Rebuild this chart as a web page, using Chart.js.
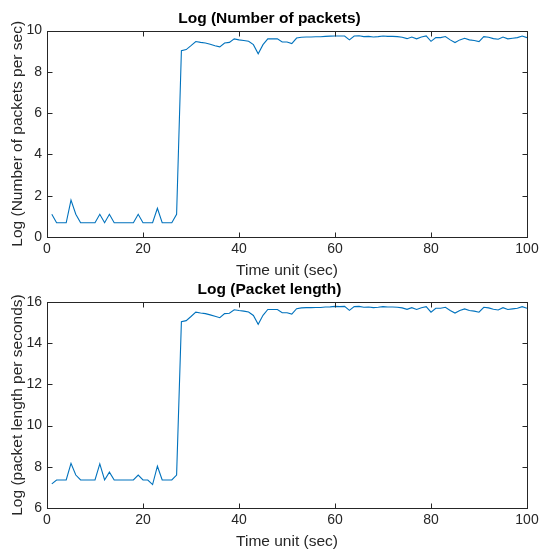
<!DOCTYPE html>
<html>
<head>
<meta charset="utf-8">
<script src="https://cdn.jsdelivr.net/npm/chart.js@4.4.0/dist/chart.umd.min.js"></script>
<style>
  body { margin: 0; background: #fff; }
  #wrap { position: relative; width: 539px; height: 551px; }
  canvas { position: absolute; left: 0; }
  #topChart { top: 0; }
  #bottomChart { top: 280px; }
</style>
</head>
<body>
<div id="wrap">
  <canvas id="topChart" width="539" height="280"></canvas>
  <canvas id="bottomChart" width="539" height="271"></canvas>
</div>
<script>
// Eje x: unidad de tiempo (sec)
const timeUnits = [
  1, 2, 3, 4, 5, 6, 7, 8, 9, 10, 11, 12, 13, 14, 15, 16, 17, 18, 19, 20,
  21, 22, 23, 24, 25, 26, 27, 28, 29, 30, 31, 32, 33, 34, 35, 36, 37, 38, 39, 40,
  41, 42, 43, 44, 45, 46, 47, 48, 49, 50, 51, 52, 53, 54, 55, 56, 57, 58, 59, 60,
  61, 62, 63, 64, 65, 66, 67, 68, 69, 70, 71, 72, 73, 74, 75, 76, 77, 78, 79, 80,
  81, 82, 83, 84, 85, 86, 87, 88, 89, 90, 91, 92, 93, 94, 95, 96, 97, 98, 99, 100
];

// Log (Number of packets per sec)
const logPackets = [
  1.10, 0.69, 0.69, 0.69, 1.79, 1.10, 0.69, 0.69, 0.69, 0.69,
  1.10, 0.69, 1.10, 0.69, 0.69, 0.69, 0.69, 0.69, 1.10, 0.69,
  0.69, 0.69, 1.39, 0.69, 0.69, 0.69, 1.10, 9.03, 9.08, 9.27,
  9.47, 9.43, 9.40, 9.34, 9.27, 9.21, 9.40, 9.43, 9.60, 9.55,
  9.52, 9.48, 9.32, 8.88, 9.32, 9.60, 9.60, 9.60, 9.45, 9.45,
  9.37, 9.64, 9.68, 9.69, 9.69, 9.70, 9.70, 9.72, 9.73, 9.74,
  9.74, 9.74, 9.55, 9.74, 9.75, 9.71, 9.72, 9.69, 9.71, 9.74,
  9.72, 9.72, 9.71, 9.68, 9.61, 9.69, 9.60, 9.69, 9.74, 9.48,
  9.66, 9.66, 9.71, 9.55, 9.42, 9.55, 9.63, 9.55, 9.52, 9.47,
  9.71, 9.68, 9.61, 9.58, 9.69, 9.60, 9.63, 9.66, 9.74, 9.66
];

// Log (packet length per seconds)
const logLength = [
  7.17, 7.36, 7.36, 7.36, 8.17, 7.60, 7.36, 7.36, 7.36, 7.36,
  8.14, 7.36, 7.74, 7.36, 7.36, 7.36, 7.36, 7.36, 7.60, 7.36,
  7.36, 7.14, 8.03, 7.36, 7.36, 7.36, 7.60, 15.05, 15.10, 15.30,
  15.51, 15.47, 15.44, 15.38, 15.31, 15.24, 15.44, 15.46, 15.63, 15.59,
  15.56, 15.52, 15.35, 14.92, 15.36, 15.64, 15.64, 15.64, 15.48, 15.48,
  15.42, 15.68, 15.72, 15.73, 15.73, 15.74, 15.74, 15.76, 15.77, 15.79,
  15.78, 15.79, 15.60, 15.78, 15.79, 15.75, 15.76, 15.73, 15.75, 15.78,
  15.76, 15.76, 15.75, 15.72, 15.65, 15.73, 15.64, 15.73, 15.78, 15.51,
  15.70, 15.70, 15.75, 15.59, 15.47, 15.59, 15.67, 15.59, 15.56, 15.51,
  15.75, 15.72, 15.65, 15.62, 15.73, 15.64, 15.67, 15.70, 15.78, 15.70
];

const xTicks = [0, 20, 40, 60, 80, 100];
const yTicksTop = [0, 2, 4, 6, 8, 10];
const yTicksBottom = [6, 8, 10, 12, 14, 16];

const axisColor = '#262626';
const fontFamily = '"Liberation Sans", Arial, Helvetica, sans-serif';

// Caja de ejes con marcas hacia dentro (estilo MATLAB)
const boxTicks = {
  id: 'boxTicks',
  afterDraw(chart) {
    const { ctx, chartArea: a, scales: { x, y } } = chart;
    ctx.save();
    ctx.strokeStyle = axisColor;
    ctx.lineWidth = 1;
    const l = Math.round(a.left) + 0.5, r = Math.round(a.right) + 0.5;
    const t = Math.round(a.top) + 0.5, b = Math.round(a.bottom) + 0.5;
    ctx.strokeRect(l, t, r - l, b - t);
    ctx.beginPath();
    x.ticks.forEach(tk => {
      const px = Math.round(x.getPixelForValue(tk.value)) + 0.5;
      ctx.moveTo(px, b); ctx.lineTo(px, b - 5);
      ctx.moveTo(px, t); ctx.lineTo(px, t + 5);
    });
    y.ticks.forEach(tk => {
      const py = Math.round(y.getPixelForValue(tk.value)) + 0.5;
      ctx.moveTo(l, py); ctx.lineTo(l + 5, py);
      ctx.moveTo(r, py); ctx.lineTo(r - 5, py);
    });
    ctx.stroke();
    ctx.restore();
  }
};

function makeChart(id, values, yMin, yMax, yTickVals, title, yLabel, titlePad) {
  const ctx = document.getElementById(id).getContext('2d');
  return new Chart(ctx, {
    type: 'line',
    data: {
      labels: timeUnits,
      datasets: [{
        data: timeUnits.map((t, i) => ({ x: t, y: values[i] })),
        borderColor: '#0072BD',
        borderWidth: 1.1,
        pointRadius: 0,
        tension: 0,
        fill: false
      }]
    },
    options: {
      responsive: false,
      animation: false,
      devicePixelRatio: 1,
      layout: { padding: 0 },
      plugins: {
        legend: { display: false },
        tooltip: { enabled: false },
        title: {
          display: true,
          text: title,
          color: '#000',
          font: { family: fontFamily, size: 15.5, weight: 'bold' },
          padding: titlePad
        }
      },
      scales: {
        x: {
          type: 'linear',
          min: 0,
          max: 100,
          afterBuildTicks: s => { s.ticks = xTicks.map(v => ({ value: v })); },
          afterFit: s => { s.height = 43; s.paddingRight = 12; s.paddingLeft = 0; },
          grid: { display: false, drawTicks: false },
          border: { display: false },
          ticks: { color: axisColor, padding: 4, maxRotation: 0, font: { family: fontFamily, size: 14 } },
          title: {
            display: true,
            text: 'Time unit (sec)',
            color: axisColor,
            padding: { top: 0, bottom: 0 },
            font: { family: fontFamily, size: 15.5 }
          }
        },
        y: {
          min: yMin,
          max: yMax,
          afterBuildTicks: s => { s.ticks = yTickVals.map(v => ({ value: v })); },
          afterFit: s => { s.width = 47; },
          grid: { display: false, drawTicks: false },
          border: { display: false },
          ticks: { color: axisColor, padding: 5, font: { family: fontFamily, size: 14 } },
          title: {
            display: true,
            text: yLabel,
            color: axisColor,
            padding: { top: 8, bottom: 0 },
            font: { family: fontFamily, size: 15.5 }
          }
        }
      }
    },
    plugins: [boxTicks]
  });
}

makeChart('topChart', logPackets, 0, 10, yTicksTop,
  'Log (Number of packets)', 'Log (Number of packets per sec)', { top: 9, bottom: 3 });
makeChart('bottomChart', logLength, 6, 16, yTicksBottom,
  'Log (Packet length)', 'Log (packet length per seconds)', { top: 0.5, bottom: 3 });
</script>
</body>
</html>
